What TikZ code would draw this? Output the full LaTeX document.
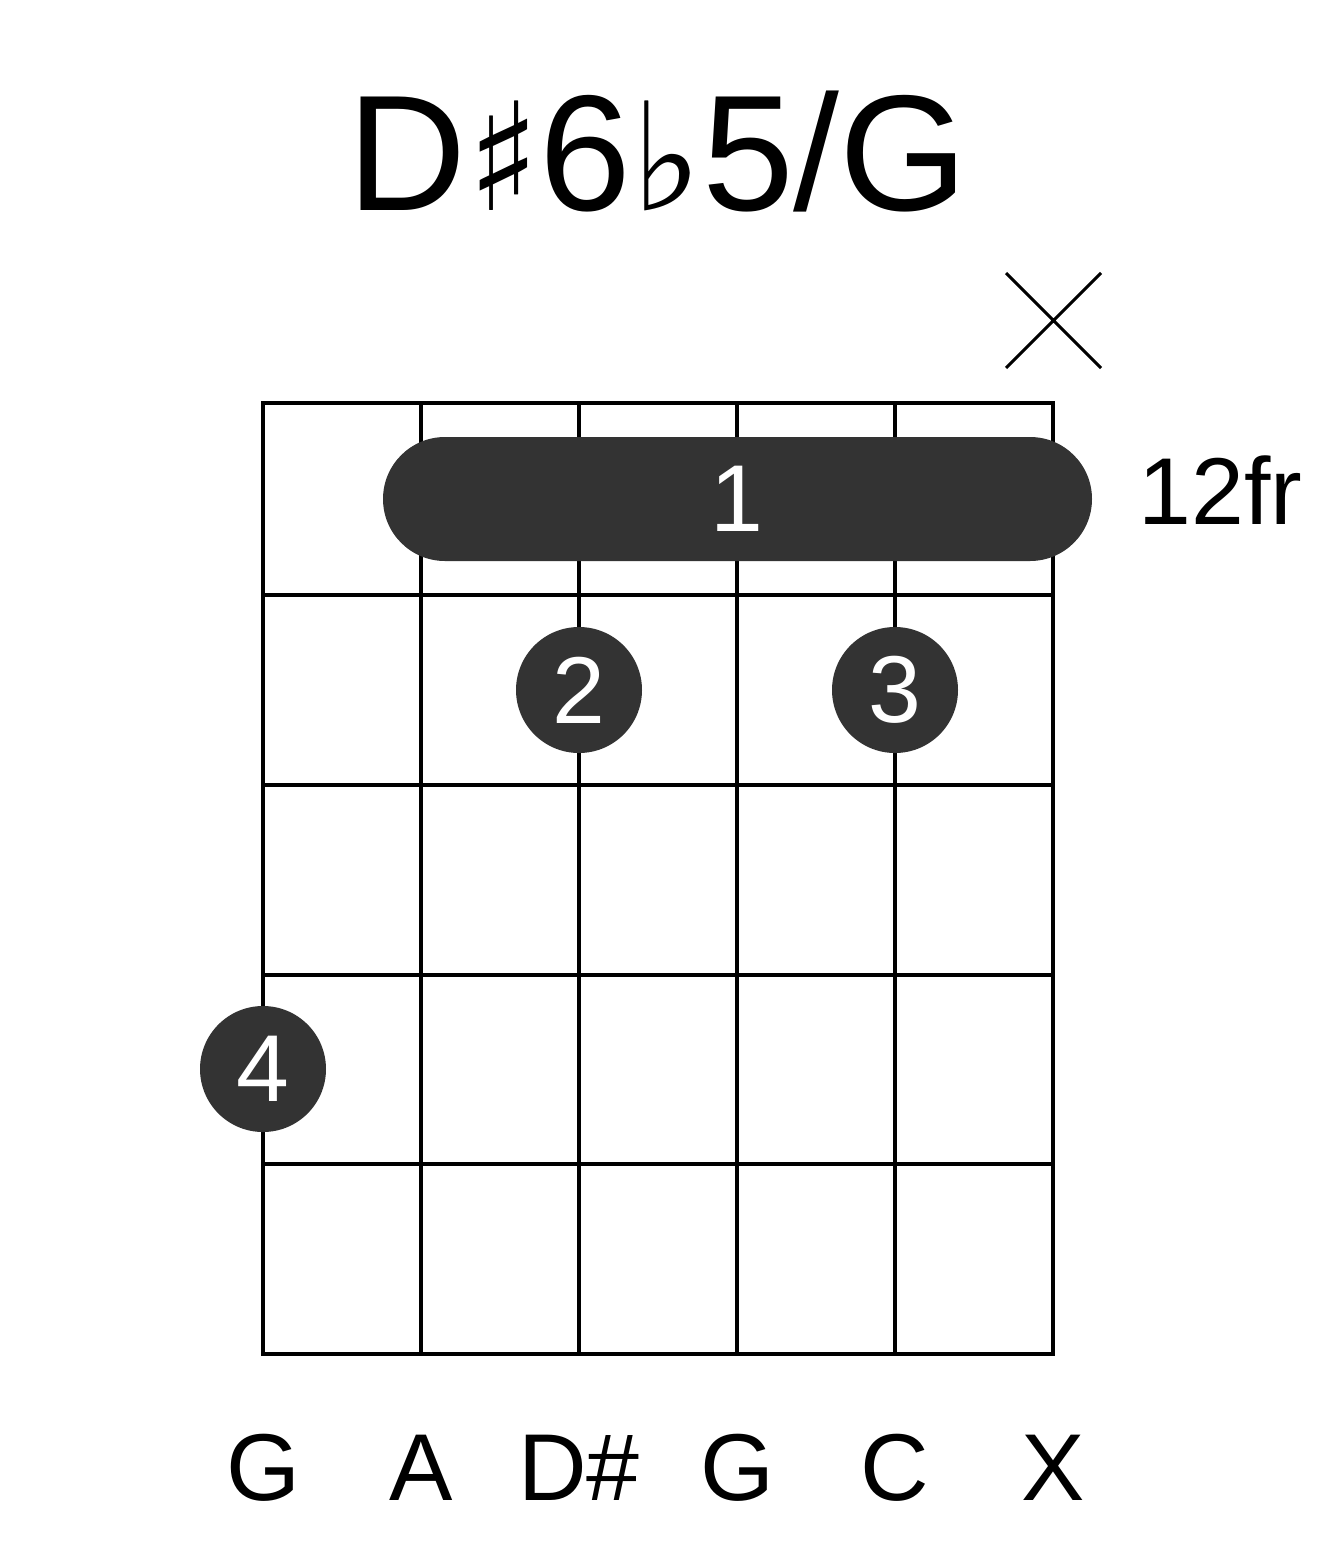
\documentclass[tikz,border=0pt]{standalone}
\usepackage{fontspec}
\setmainfont{Liberation Sans}
\newfontfamily\symfont{DejaVu Sans}
\begin{document}
\begin{tikzpicture}[x=1pt,y=-1pt,
  gridline/.style={line width=4pt,black},
  dot/.style={circle,fill=black!80,minimum size=126pt,inner sep=0pt,text=white,font=\fontsize{95}{95}\selectfont},
  lbl/.style={font=\fontsize{95}{95}\selectfont}]
\useasboundingbox (0,0) rectangle (1317,1551);
\foreach \x in {263,421,579,737,895,1053} \draw[gridline] (\x,403) -- (\x,1354);
\foreach \y in {403,595,785,975,1164,1354} \draw[gridline] (261,\y) -- (1055,\y);
\node[fill=black!80,rounded corners=62pt,minimum width=709pt,minimum height=124pt,inner sep=0pt] (barre) at (737.5,499) {};
\node[text=white,font=\fontsize{95}{95}\selectfont] (b1) at (737,499) {1};
\node[dot] (d2) at (579,690) {2};
\node[dot] (d3) at (895,690) {3};
\node[dot] (d4) at (263,1069) {4};
\draw[line width=3pt] (1006,273) -- (1101,368) (1006,368) -- (1101,273);
\node[lbl,anchor=west] (fr) at (1135,490) {12fr};
\node[font=\fontsize{165}{165}\selectfont] (title) at (658,152) {D{\symfont\fontsize{150}{150}\selectfont ♯}6{\symfont\fontsize{150}{150}\selectfont ♭}5/G};
\foreach \x/\t [count=\i] in {263/G,421/A,579/D\#,737/G,895/C,1053/X}
  \node[lbl] (s\i) at (\x,1468) {\t};
\end{tikzpicture}
\end{document}
